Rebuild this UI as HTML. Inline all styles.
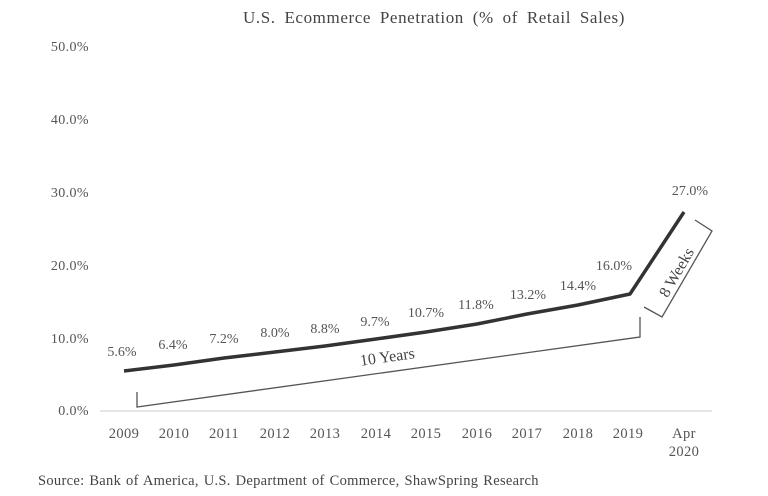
<!DOCTYPE html>
<html><head><meta charset="utf-8"><style>
body{margin:0;background:#fff;}
svg{display:block;font-family:"Liberation Serif",serif;}
</style></head><body>
<svg width="768" height="496" viewBox="0 0 768 496">
<text x="434" y="23" font-size="17" fill="#444" text-anchor="middle" letter-spacing="0.6" word-spacing="4">U.S. Ecommerce Penetration (% of Retail Sales)</text>
<g font-size="14" fill="#555" text-anchor="end" letter-spacing="0.4">
<text x="89" y="51">50.0%</text>
<text x="89" y="124">40.0%</text>
<text x="89" y="197">30.0%</text>
<text x="89" y="270">20.0%</text>
<text x="89" y="343">10.0%</text>
<text x="89" y="415">0.0%</text>
</g>
<line x1="100" y1="411" x2="712" y2="411" stroke="#ddd" stroke-width="1.5"/>
<g font-size="14.5" fill="#555" text-anchor="middle" letter-spacing="0.4">
<text x="124" y="438">2009</text><text x="174" y="438">2010</text><text x="224" y="438">2011</text>
<text x="275" y="438">2012</text><text x="325" y="438">2013</text><text x="376" y="438">2014</text>
<text x="426" y="438">2015</text><text x="477" y="438">2016</text><text x="527" y="438">2017</text>
<text x="578" y="438">2018</text><text x="628" y="438">2019</text><text x="684" y="438">Apr</text>
<text x="684" y="456">2020</text>
</g>
<polyline fill="none" stroke="#333" stroke-width="3.5" stroke-linejoin="round" points="124,371 174,365 224,358 275,352 325,346 376,339 426,332 477,324 527,314 578,305 630,294 684,212"/>
<g font-size="14" fill="#555" text-anchor="middle">
<text x="122" y="356">5.6%</text><text x="173" y="349">6.4%</text><text x="224" y="343">7.2%</text>
<text x="275" y="337">8.0%</text><text x="325" y="333">8.8%</text><text x="375" y="326">9.7%</text>
<text x="426" y="317">10.7%</text><text x="476" y="309">11.8%</text><text x="528" y="299">13.2%</text>
<text x="578" y="290">14.4%</text><text x="614" y="270">16.0%</text><text x="690" y="195">27.0%</text>
</g>
<polyline fill="none" stroke="#555" stroke-width="1.3" points="137,392 137,407 640,337 640,317"/>
<text x="388" y="362" font-size="16" fill="#444" text-anchor="middle" transform="rotate(-8 388 362)">10 Years</text>
<polyline fill="none" stroke="#555" stroke-width="1.3" points="695,220 712,231 662,317 644,307"/>
<text x="681" y="275" font-size="16" fill="#444" text-anchor="middle" transform="rotate(-60 681 275)">8 Weeks</text>
<text x="38" y="485" font-size="14.5" fill="#444" letter-spacing="0.3" word-spacing="1">Source: Bank of America, U.S. Department of Commerce, ShawSpring Research</text>
</svg>
</body></html>
